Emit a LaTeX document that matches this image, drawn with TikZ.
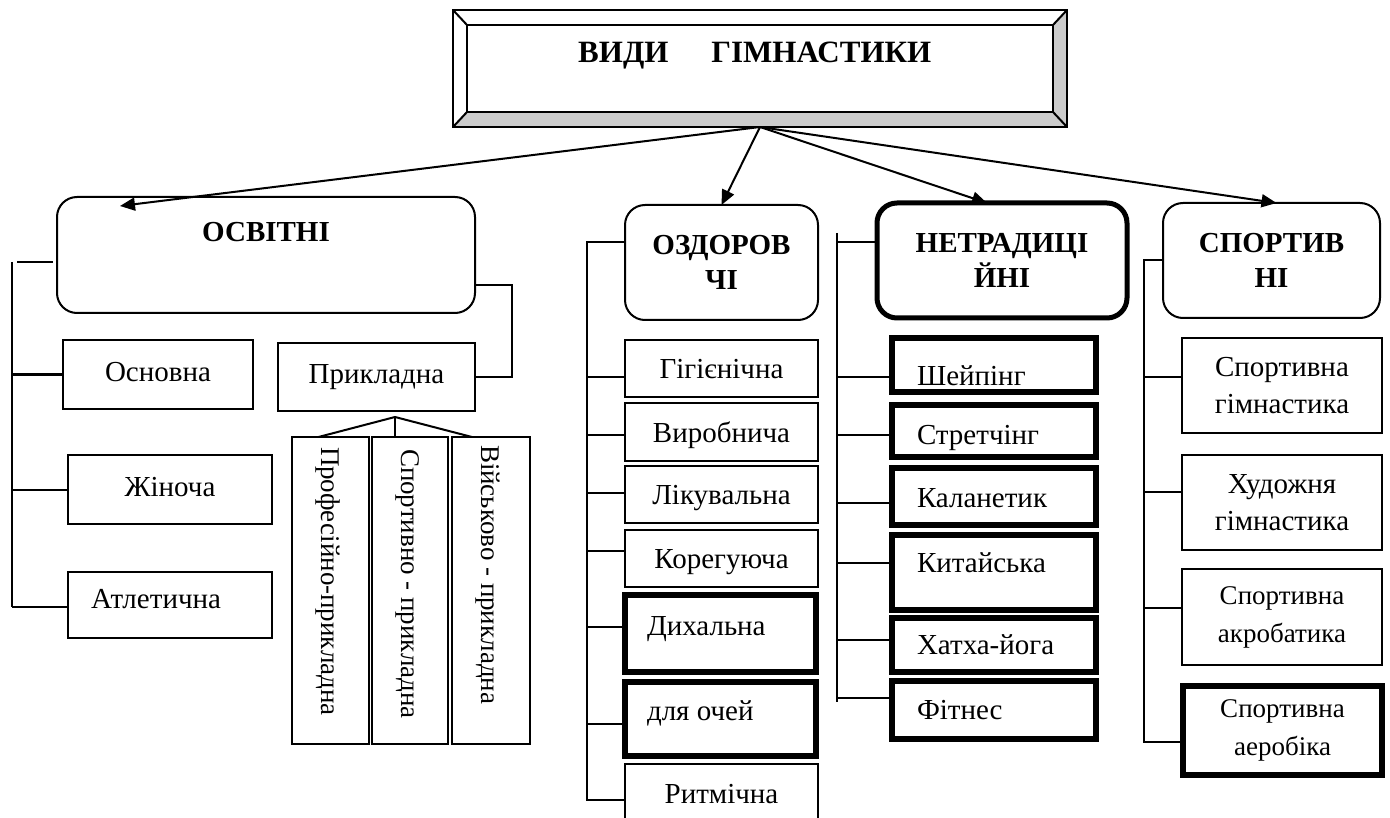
\documentclass[tikz,border=0pt]{standalone}
\usepackage{fontspec}
\setmainfont{Liberation Serif}
\usetikzlibrary{arrows.meta}
\newcommand\myreg{\fontsize{29}{35}\selectfont}
\newcommand\mybold{\fontsize{29}{35}\selectfont\bfseries}
\newcommand\mytwo{\fontsize{29}{37}\selectfont}
\newcommand\mysmall{\fontsize{27}{38}\selectfont}
\newcommand\myvert{\fontsize{27}{32}\selectfont}
\newcommand\mytitle{\fontsize{31}{36}\selectfont\bfseries}
\newcommand\mkbox[7]{\node[#6, minimum width={(#4)-(#2)}, minimum height={(#5)-(#3)}] (#1) at ({((#2)+(#4))/2},{((#3)+(#5))/2}) {#7};}
\tikzset{
  ln/.style={line width=2pt},
  tbox/.style={draw, line width=2pt, inner sep=0pt, outer sep=0pt, font=\myreg, text height=26pt, text depth=6pt},
  lbox/.style={tbox, text depth=12pt},
  mbox/.style={draw, line width=2pt, inner sep=0pt, outer sep=0pt, font=\mytwo, align=center},
  sbox/.style={mbox, font=\mysmall},
  kbox/.style={draw, line width=5.5pt, inner sep=0pt, outer sep=0pt},
  rbox/.style={draw, line width=2pt, rounded corners=20pt, inner sep=0pt, outer sep=0pt, font=\mybold, align=center},
  rkbox/.style={rbox, line width=5pt},
  txt/.style={inner sep=0pt, outer sep=0pt, font=\myreg},
  arr/.style={line width=2pt, -{Triangle[length=15pt,width=13pt]}},
}
\begin{document}
\begin{tikzpicture}[x=1pt,y=-1pt]
\useasboundingbox (0,0) rectangle (1390,818);
% ---------- title ----------
\coordinate (tNW) at (453,10);
\coordinate (tNE) at (1067,10);
\coordinate (tSW) at (453,127);
\coordinate (tSE) at (1067,127);
\mkbox{title}{467}{25}{1053}{112}{draw, ln, inner sep=0pt, outer sep=0pt}{}
\fill[black!20] (title.north east) -- (tNE) -- (tSE) -- (tSW) -- (title.south west) -- (title.south east) -- cycle;
\draw[ln] (tNW) rectangle (tSE);
\draw[ln] (title.north west) rectangle (title.south east);
\draw[ln] (tNW) -- (title.north west);
\draw[ln] (tNE) -- (title.north east);
\draw[ln] (tSW) -- (title.south west);
\draw[ln] (tSE) -- (title.south east);
\node[inner sep=0pt, anchor=base west, font=\mytitle] (titleT) at (578,63) {ВИДИ\hspace{43pt}ГІМНАСТИКИ};
\coordinate (hub) at ([yshift=-15pt]title.south);
% ---------- main categories ----------
\mkbox{osv}{57}{197}{475}{313}{rbox}{}
\node[txt, font=\mybold, anchor=base] (osvT) at (266,242) {ОСВІТНІ};
\mkbox{ozd}{625}{205}{818}{320}{rbox}{ОЗДОРОВ\\ЧІ}
\mkbox{net}{877}{203}{1127}{318}{rkbox}{НЕТРАДИЦІ\\ЙНІ}
\mkbox{spt}{1163}{203}{1380}{318}{rbox}{СПОРТИВ\\НІ}
\draw[arr] (hub) -- ([xshift=63pt,yshift=-9pt]osv.north west);
\draw[arr] (hub) -- (ozd.north);
\draw[arr] (hub) -- ([xshift=-15pt]net.north);
\draw[arr] (hub) -- ([xshift=5pt]spt.north);
% ---------- ОСВІТНІ ----------
\coordinate (lsT) at (12,262);
\coordinate (lsB) at (12,607);
\coordinate (osvA) at (17,262);
\coordinate (osvB) at (53,262);
\mkbox{osn}{63}{340}{253}{409}{lbox}{Основна}
\mkbox{zhin}{68}{455}{272}{524}{lbox}{Жіноча}
\mkbox{atl}{68}{572}{272}{638}{tbox}{}
\node[txt, anchor=base] (atlT) at (156,608) {Атлетична};
\mkbox{prk}{278}{343}{475}{411}{lbox}{Прикладна}
\draw[ln] (lsT) -- (lsB);
\draw[ln] (osvA) -- (osvB);
\draw[ln] (osn.west) -- (osn.west -| lsT);
\draw[ln] (zhin.west) -- (zhin.west -| lsT);
\draw[ln] ([yshift=-2pt]atl.west) -- (lsB);
\draw[ln] (prk.east) -- ++(37,0) |- ([yshift=-30pt]osv.east);
\mkbox{v1}{292}{437}{369}{744}{tbox}{}
\mkbox{v2}{372}{437}{448}{744}{tbox}{}
\mkbox{v3}{452}{437}{530}{744}{tbox}{}
\node[txt, font=\myvert, rotate=-90, anchor=west] (v1T) at (328,447) {Професійно-прикладна};
\node[txt, font=\myvert, rotate=-90, anchor=west] (v2T) at (408,449) {Спортивно - прикладна};
\node[txt, font=\myvert, rotate=-90, anchor=west] (v3T) at (488,445) {Військово - прикладна};
\coordinate (apex) at (395,417);
\draw[ln] (apex) -- ([xshift=-12pt]v1.north);
\draw[ln] (apex) -- ([xshift=-15pt]v2.north);
\draw[ln] (apex) -- ([xshift=-19pt]v3.north);
% ---------- ОЗДОРОВЧІ ----------
\coordinate (osT) at (587,242);
\coordinate (osB) at (587,800);
\mkbox{gig}{625}{340}{818}{397}{tbox}{Гігієнічна}
\mkbox{vyr}{625}{403}{818}{461}{tbox}{Виробнича}
\mkbox{lik}{625}{466}{818}{523}{tbox}{Лікувальна}
\mkbox{kor}{625}{530}{818}{587}{tbox}{Корегуюча}
\mkbox{dyh}{625}{595}{816}{672}{kbox}{}
\node[txt, anchor=base west] (dyhT) at (647,635) {Дихальна};
\mkbox{och}{625}{682}{816}{756}{kbox}{}
\node[txt, anchor=base west] (ochT) at (647,720) {для очей};
\mkbox{ritm}{625}{764}{818}{823}{tbox}{Ритмічна}
\draw[ln] ([yshift=20pt]ozd.west) -- ([yshift=20pt]ozd.west -| osT) -- (osB) -- (osB -| ritm.west);
\draw[ln] ([yshift=-8pt]gig.west) -- ([yshift=-8pt]gig.west -| osT);
\draw[ln] ([yshift=-3pt]vyr.west) -- ([yshift=-3pt]vyr.west -| osT);
\draw[ln] ([yshift=2pt]lik.west) -- ([yshift=2pt]lik.west -| osT);
\draw[ln] ([yshift=8pt]kor.west) -- ([yshift=8pt]kor.west -| osT);
\draw[ln] ([yshift=7pt]dyh.west) -- ([yshift=7pt]dyh.west -| osT);
\draw[ln] ([yshift=-5pt]och.west) -- ([yshift=-5pt]och.west -| osT);
% ---------- НЕТРАДИЦІЙНІ ----------
\coordinate (nsT) at (837,233);
\coordinate (nsB) at (837,702);
\mkbox{shp}{892}{338}{1096}{392}{kbox}{}
\mkbox{str}{892}{405}{1096}{457}{kbox}{}
\mkbox{kal}{892}{468}{1096}{525}{kbox}{}
\mkbox{kit}{892}{535}{1096}{610}{kbox}{}
\mkbox{hat}{892}{618}{1096}{672}{kbox}{}
\mkbox{fit}{892}{681}{1096}{739}{kbox}{}
\node[txt, anchor=base west] (shpT) at (917,385) {Шейпінг};
\node[txt, anchor=base west] (strT) at (917,444) {Стретчінг};
\node[txt, anchor=base west] (kalT) at (917,507) {Каланетик};
\node[txt, anchor=base west] (kitT) at (917,572) {Китайська};
\node[txt, anchor=base west] (hatT) at (917,654) {Хатха-йога};
\node[txt, anchor=base west] (fitT) at (917,719) {Фітнес};
\draw[ln] (nsT) -- (nsB);
\draw[ln] ([yshift=18.5pt]net.west) -- ([yshift=18.5pt]net.west -| nsT);
\draw[ln] ([yshift=-12pt]shp.west) -- ([yshift=-12pt]shp.west -| nsT);
\draw[ln] ([yshift=-4pt]str.west) -- ([yshift=-4pt]str.west -| nsT);
\draw[ln] ([yshift=-6.5pt]kal.west) -- ([yshift=-6.5pt]kal.west -| nsT);
\draw[ln] ([yshift=9.5pt]kit.west) -- ([yshift=9.5pt]kit.west -| nsT);
\draw[ln] ([yshift=5pt]hat.west) -- ([yshift=5pt]hat.west -| nsT);
\draw[ln] ([yshift=12pt]fit.west) -- ([yshift=12pt]fit.west -| nsT);
% ---------- СПОРТИВНІ ----------
\coordinate (ssT) at (1144,262);
\coordinate (ssB) at (1144,742);
\mkbox{sg}{1182}{338}{1382}{433}{mbox}{Спортивна\\гімнастика}
\mkbox{hg}{1182}{455}{1382}{550}{mbox}{Художня\\гімнастика}
\mkbox{sa}{1182}{569}{1382}{665}{sbox}{Спортивна\\акробатика}
\mkbox{sae}{1183}{686}{1382}{775}{sbox, line width=5.5pt}{Спортивна\\аеробіка}
\draw[ln] (spt.west) -- (spt.west -| ssT) -- (ssB) -- (ssB -| sae.west);
\draw[ln] ([yshift=8.5pt]sg.west) -- ([yshift=8.5pt]sg.west -| ssT);
\draw[ln] ([yshift=10.5pt]hg.west) -- ([yshift=10.5pt]hg.west -| ssT);
\draw[ln] ([yshift=9pt]sa.west) -- ([yshift=9pt]sa.west -| ssT);
\end{tikzpicture}
\end{document}
